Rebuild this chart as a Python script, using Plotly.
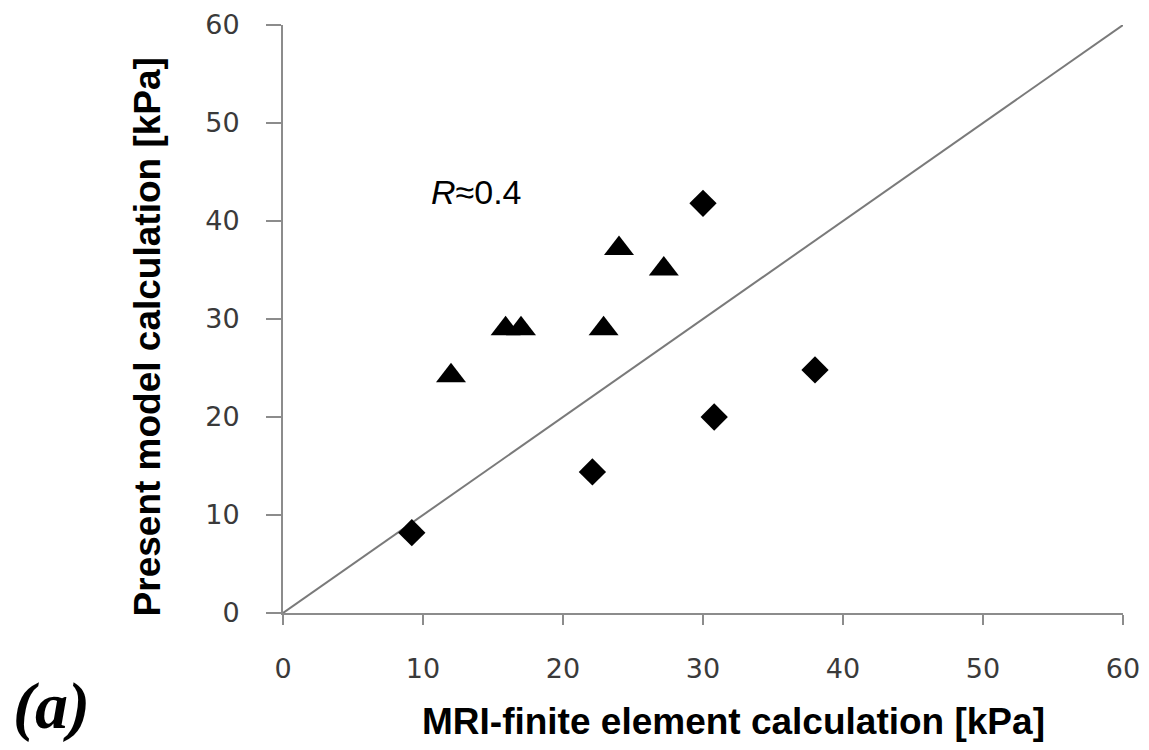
import plotly.graph_objects as go

# triangles (one group) and diamonds (other group), kPa
tri_x = [12.0, 15.9, 17.0, 22.9, 24.0, 27.2]
tri_y = [24.2, 29.0, 29.0, 29.0, 37.2, 35.1]
dia_x = [9.2, 22.1, 30.0, 30.8, 38.0]
dia_y = [8.2, 14.4, 41.8, 20.0, 24.8]
line_xy = [0, 60]
tick_vals = [0, 10, 20, 30, 40, 50, 60]

fig = go.Figure()

# identity line
fig.add_trace(go.Scatter(
    x=line_xy, y=line_xy, mode='lines',
    line=dict(color='#7a7a7a', width=2),
    showlegend=False, hoverinfo='skip'
))

fig.add_trace(go.Scatter(
    x=tri_x, y=tri_y, mode='markers',
    marker=dict(symbol='triangle-up', size=26, color='black'),
    showlegend=False
))

fig.add_trace(go.Scatter(
    x=dia_x, y=dia_y, mode='markers',
    marker=dict(symbol='diamond', size=21, color='black'),
    showlegend=False
))

axis_common = dict(
    range=[0, 60],
    tickvals=tick_vals,
    automargin=False,
    showgrid=False,
    zeroline=False,
    showline=True,
    linecolor='#8c8c8c',
    linewidth=2,
    ticks='outside',
    tickcolor='#8c8c8c',
    tickwidth=2,
    tickfont=dict(family='DejaVu Sans', size=27, color='#3a3a3a'),
)

fig.update_xaxes(**axis_common, ticklen=10, ticklabelstandoff=21)
fig.update_yaxes(**axis_common, ticklen=15, ticklabelstandoff=21)

# page body adds an 8px margin all round, so keep the page inside the window
fig.update_layout(
    width=1133, height=734,
    margin=dict(l=275, r=18, t=17, b=129),
    plot_bgcolor='white',
    paper_bgcolor='white',
    showlegend=False,
    annotations=[
        dict(text='MRI-finite element calculation [kPa]',
             xref='paper', yref='paper', x=0.536, y=-0.184,
             showarrow=False, xanchor='center', yanchor='middle',
             font=dict(family='Liberation Sans', size=37, color='black', weight='bold')),
        dict(text='Present model calculation [kPa]',
             xref='paper', yref='paper', x=-0.161, y=0.47,
             textangle=-90, showarrow=False, xanchor='center', yanchor='middle',
             font=dict(family='Liberation Sans', size=37, color='black', weight='bold')),
        dict(text='<i>R</i>≈0.4',
             xref='x', yref='y', x=13.8, y=43.0,
             showarrow=False, xanchor='center', yanchor='middle',
             font=dict(family='Liberation Sans', size=34, color='black')),
        dict(text='<b><i>(a)</i></b>',
             xref='paper', yref='paper', x=-0.275, y=-0.158,
             showarrow=False, xanchor='center', yanchor='middle',
             font=dict(family='Liberation Serif', size=66, color='black')),
    ]
)

fig.write_html("out.html")
